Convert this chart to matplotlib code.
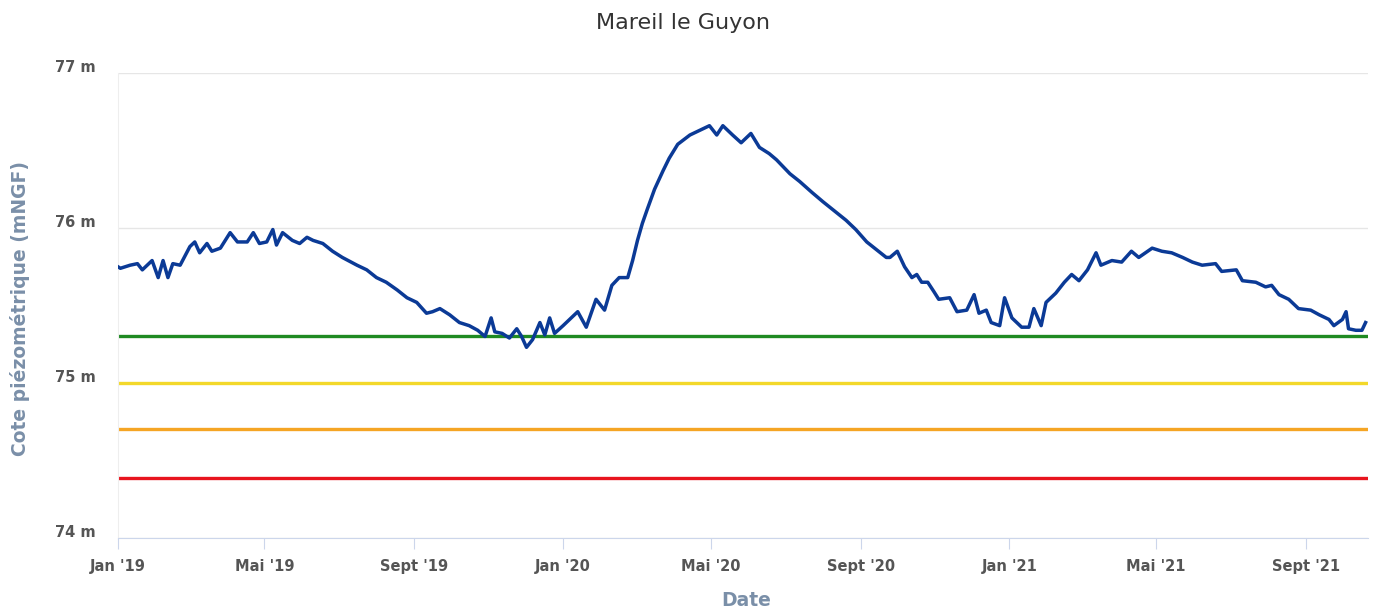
import matplotlib
matplotlib.use("Agg")
import matplotlib.pyplot as plt
import matplotlib.transforms as mtransforms
import numpy as np
import pandas as pd

# ---- data ----
start_date = "2019-01-01"
day_offsets = [
    0, 2, 10, 16, 20, 28, 33, 37, 41, 45, 51, 59, 63, 67, 73, 77, 84, 92, 98, 106,
    111, 116, 122, 127, 130, 135, 143, 149, 155, 160, 168, 176, 184, 196, 204, 212,
    220, 229, 237, 245, 253, 258, 264, 272, 280, 288, 295, 301, 306, 309, 315, 321,
    327, 331, 335, 340, 346, 350, 354, 358, 365, 373, 377, 384, 392, 399, 405, 411,
    418, 422, 426, 430, 434, 440, 447, 452, 459, 469, 477, 485, 491, 496, 504, 511,
    519, 526, 534, 540, 551, 559, 569, 578, 589, 597, 605, 614, 622, 630, 633, 639,
    645, 651, 655, 659, 664, 669, 673, 682, 688, 696, 702, 706, 712, 716, 723, 727,
    733, 741, 747, 751, 757, 761, 769, 776, 782, 788, 795, 802, 806, 815, 823, 831,
    837, 848, 856, 864, 873, 881, 889, 900, 905, 917, 922, 933, 941, 946, 952, 960,
    968, 978, 985, 993, 997, 1004, 1007, 1009, 1015, 1020, 1023,
]
levels_m = [
    75.75, 75.74, 75.76, 75.77, 75.73, 75.79, 75.68, 75.79, 75.68, 75.77, 75.76, 75.88,
    75.91, 75.84, 75.90, 75.85, 75.87, 75.97, 75.91, 75.91, 75.97, 75.90, 75.91, 75.99,
    75.89, 75.97, 75.92, 75.90, 75.94, 75.92, 75.90, 75.85, 75.81, 75.76, 75.73, 75.68,
    75.65, 75.60, 75.55, 75.52, 75.45, 75.46, 75.48, 75.44, 75.39, 75.37, 75.34, 75.30,
    75.42, 75.33, 75.32, 75.29, 75.35, 75.30, 75.23, 75.28, 75.39, 75.31, 75.42, 75.32,
    75.37, 75.43, 75.46, 75.36, 75.54, 75.47, 75.63, 75.68, 75.68, 75.79, 75.92, 76.03,
    76.12, 76.25, 76.37, 76.45, 76.54, 76.60, 76.63, 76.66, 76.60, 76.66, 76.60, 76.55,
    76.61, 76.52, 76.48, 76.44, 76.35, 76.30, 76.23, 76.17, 76.10, 76.05, 75.99, 75.91,
    75.86, 75.81, 75.81, 75.85, 75.75, 75.68, 75.70, 75.65, 75.65, 75.59, 75.54, 75.55,
    75.46, 75.47, 75.57, 75.45, 75.47, 75.39, 75.37, 75.55, 75.42, 75.36, 75.36, 75.48,
    75.37, 75.52, 75.58, 75.65, 75.70, 75.66, 75.73, 75.84, 75.76, 75.79, 75.78, 75.85,
    75.81, 75.87, 75.85, 75.84, 75.81, 75.78, 75.76, 75.77, 75.72, 75.73, 75.66, 75.65,
    75.62, 75.63, 75.57, 75.54, 75.48, 75.47, 75.44, 75.41, 75.37, 75.41, 75.46, 75.35,
    75.34, 75.34, 75.39,
]
threshold_values = [75.30, 75.00, 74.70, 74.39]
threshold_colors = ["#1f8a22", "#f3d82a", "#f5a524", "#e8141e"]

x_tick_dates = ["2019-01-01", "2019-05-01", "2019-09-01", "2020-01-01", "2020-05-01",
                "2020-09-01", "2021-01-01", "2021-05-01", "2021-09-01"]
x_tick_labels = ["Jan '19", "Mai '19", "Sept '19", "Jan '20", "Mai '20",
                 "Sept '20", "Jan '21", "Mai '21", "Sept '21"]
y_ticks = [74, 75, 76, 77]
y_tick_labels = ["74 m", "75 m", "76 m", "77 m"]

title = "Mareil le Guyon"
y_title = "Cote piézométrique (mNGF)"
x_title = "Date"

# ---- figure ----
dates = pd.Timestamp(start_date) + pd.to_timedelta(day_offsets, unit="D")

fig = plt.figure(figsize=(13.81, 6.14), dpi=100)
ax = fig.add_axes([0.0854, 0.1238, 0.9052, 0.7573])

for val, col in zip(threshold_values, threshold_colors):
    ax.axhline(val, color=col, lw=2.4, zorder=2, solid_capstyle="butt")

ax.plot(dates, levels_m, color="#0b3a96", lw=2.5, zorder=3, solid_joinstyle="round")

ax.set_xlim(pd.Timestamp(start_date), pd.Timestamp(start_date) + pd.Timedelta(days=1025))
ax.set_ylim(74, 77)

ax.set_yticks(y_ticks)
ax.set_yticklabels(y_tick_labels)
ax.set_xticks(pd.to_datetime(x_tick_dates))
ax.set_xticklabels(x_tick_labels)

ax.grid(axis="y", color="#e6e6e6", lw=1)
ax.set_axisbelow(True)
for s in ["top", "right"]:
    ax.spines[s].set_visible(False)
ax.spines["bottom"].set_color("#ccd6eb")
ax.spines["left"].set_color("#eeeeee")

ax.tick_params(axis="x", direction="out", length=8, color="#ccd6eb", pad=7,
               labelsize=10.5, labelcolor="#555555")
ax.tick_params(axis="y", length=0, pad=16, labelsize=10.5, labelcolor="#555555")
for lab in ax.get_xticklabels() + ax.get_yticklabels():
    lab.set_fontweight("bold")
    lab.set_family("DejaVu Sans")
offset = mtransforms.ScaledTranslation(0, 0.07, fig.dpi_scale_trans)
for lab in ax.get_yticklabels():
    lab.set_transform(lab.get_transform() + offset)

fig.text(0.4946, 0.962, title, ha="center", va="center", fontsize=16, color="#333333")
fig.text(0.0145, 0.497, y_title, rotation=90, ha="center", va="center",
         fontsize=13.5, fontweight="bold", color="#7a8fa8")
fig.text(0.540, 0.022, x_title, ha="center", va="center",
         fontsize=13.5, fontweight="bold", color="#7a8fa8")

fig.savefig("out.png", dpi=100)
